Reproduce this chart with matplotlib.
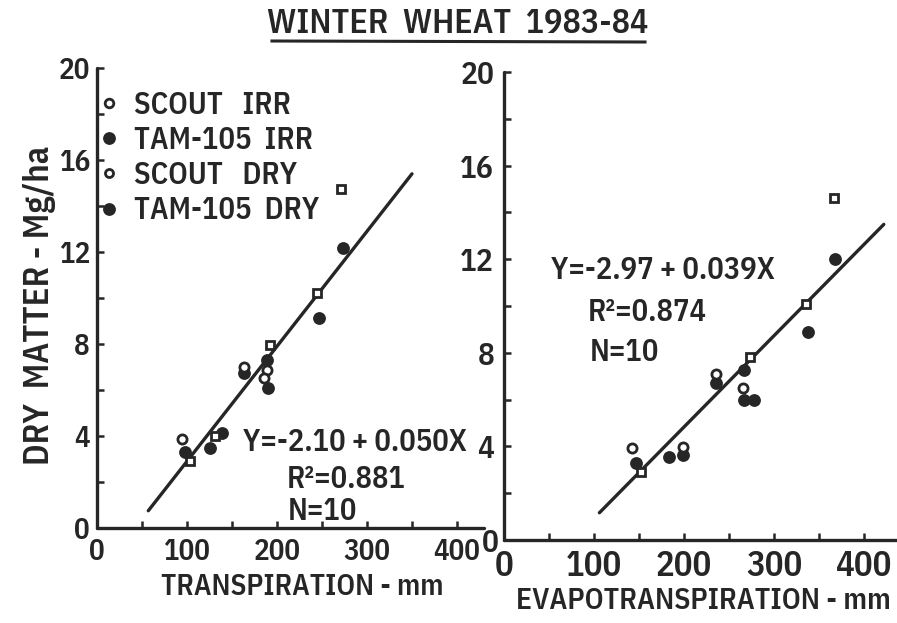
import matplotlib
matplotlib.use('Agg')
import matplotlib.pyplot as plt
from matplotlib.lines import Line2D
from matplotlib.ticker import MultipleLocator
import numpy as np

plt.rcParams['font.family'] = ['IBM Plex Sans Condensed', 'DejaVu Sans']
plt.rcParams['font.weight'] = 600
INK = '#262626'

# ---------------- data ----------------
series_names = ['SCOUT   IRR', 'TAM-105  IRR', 'SCOUT   DRY', 'TAM-105  DRY']

# Left panel: transpiration (mm) vs dry matter (Mg/ha)
t_scout_irr_x = [103, 131, 192, 244, 271]
t_scout_irr_y = [2.93, 4.0, 7.96, 10.2, 14.73]
t_tam_irr_x = [126, 189, 247, 273]
t_tam_irr_y = [3.48, 7.3, 9.12, 12.16]
t_scout_dry_x = [94, 163, 189, 186]
t_scout_dry_y = [3.86, 7.01, 6.87, 6.53]
t_tam_dry_x = [98, 139, 163, 190]
t_tam_dry_y = [3.32, 4.13, 6.74, 6.07]

# Right panel: evapotranspiration (mm) vs dry matter (Mg/ha)
et_scout_irr_x = [152, 273, 336, 367]
et_scout_irr_y = [2.92, 7.81, 10.09, 14.6]
et_tam_irr_x = [183, 267, 338, 368]
et_tam_irr_y = [3.56, 7.26, 8.9, 12.0]
et_scout_dry_x = [142, 199, 235, 265]
et_scout_dry_y = [3.92, 3.97, 7.09, 6.48]
et_tam_dry_x = [147, 199, 235, 267, 278]
et_tam_dry_y = [3.28, 3.63, 6.71, 5.98, 5.98]

# Regression lines: intercept, slope, x-range drawn
t_fit = (-2.10, 0.050)
t_fit_range = [57, 350]
et_fit = (-2.97, 0.039)
et_fit_range = [106, 422]

t_eq = ['Y=-2.10\u2009+\u20090.050X', 'R²=0.881', 'N=10']
et_eq = ['Y=-2.97\u2009+\u20090.039X', 'R²=0.874', 'N=10']

y_ticks = [0, 4, 8, 12, 16, 20]
x_ticks = [0, 100, 200, 300, 400]

# ---------------- figure ----------------
W, H = 897, 623
fig = plt.figure(figsize=(W / 100, H / 100), dpi=100)
fig.patch.set_facecolor('white')


def px_axes(x0, y0, x1, y1):
    return [x0 / W, 1 - y0 / H, (x1 - x0) / W, (y0 - y1) / H]


axL = fig.add_axes(px_axes(97, 528, 97 + 0.9 * 430, 528 - 23 * 20))
axR = fig.add_axes(px_axes(504, 540, 504 + 0.9 * 437, 540 - 23.4 * 20))

mk = dict(scout_irr=dict(marker='s', ms=6.4, mfc='white', mec=INK, mew=2.0, ls='none'),
          tam_irr=dict(marker='o', ms=8.2, mfc=INK, mec=INK, mew=1.0, ls='none'),
          scout_dry=dict(marker='o', ms=6.6, mfc='white', mec=INK, mew=2.0, ls='none'),
          tam_dry=dict(marker='o', ms=8.2, mfc=INK, mec=INK, mew=1.0, ls='none'))


def style_axes(ax, xmax, xfs, yfs, ypad):
    ax.set_xlim(0, xmax)
    ax.set_ylim(0, 20)
    for s in ['top', 'right']:
        ax.spines[s].set_visible(False)
    for s in ['left', 'bottom']:
        ax.spines[s].set_linewidth(2.4)
        ax.spines[s].set_color(INK)
        ax.spines[s].set_capstyle('round')
    ax.set_yticks(y_ticks)
    ax.set_yticklabels([str(v) for v in y_ticks])
    ax.set_xticks(x_ticks)
    ax.set_xticklabels([str(v) for v in x_ticks])
    ax.yaxis.set_minor_locator(MultipleLocator(2))
    ax.xaxis.set_minor_locator(MultipleLocator(50))
    ax.tick_params(which='both', direction='in', color=INK, width=1.8, length=5)
    ax.tick_params(axis='y', which='major', labelsize=yfs, pad=ypad, labelcolor=INK)
    ax.tick_params(axis='x', which='major', labelsize=xfs, pad=7, labelcolor=INK)
    ax.set_facecolor('none')


style_axes(axL, 430, 21, 21, 5)
style_axes(axR, 437, 25, 22.5, 7)
# the right panel's y "0" sits tight against the axis corner, as in the original
axR.get_yticklabels()[0].set_x(0.012)

# regression lines
for ax, (a, b), rng in [(axL, t_fit, t_fit_range), (axR, et_fit, et_fit_range)]:
    xs = np.array(rng, dtype=float)
    ax.plot(xs, a + b * xs, color=INK, lw=2.4, solid_capstyle='round', zorder=2)

# points
axL.plot(t_scout_irr_x, t_scout_irr_y, zorder=4, **mk['scout_irr'])
axL.plot(t_tam_irr_x, t_tam_irr_y, zorder=3, **mk['tam_irr'])
axL.plot(t_scout_dry_x, t_scout_dry_y, zorder=4, **mk['scout_dry'])
axL.plot(t_tam_dry_x, t_tam_dry_y, zorder=3, **mk['tam_dry'])
axR.plot(et_scout_irr_x, et_scout_irr_y, zorder=4, **mk['scout_irr'])
axR.plot(et_tam_irr_x, et_tam_irr_y, zorder=3, **mk['tam_irr'])
axR.plot(et_scout_dry_x, et_scout_dry_y, zorder=4, **mk['scout_dry'])
axR.plot(et_tam_dry_x, et_tam_dry_y, zorder=3, **mk['tam_dry'])

leg_handles = [Line2D([], [], marker='o', ms=6.2, mfc='white', mec=INK, mew=2.0, ls='none'),
               Line2D([], [], marker='o', ms=8.2, mfc=INK, mec=INK, ls='none'),
               Line2D([], [], marker='o', ms=5.8, mfc='white', mec=INK, mew=2.0, ls='none'),
               Line2D([], [], marker='o', ms=8.2, mfc=INK, mec=INK, ls='none')]
leg = axL.legend(leg_handles, series_names, loc='upper left',
                 bbox_to_anchor=(0.0, 0.953), frameon=False,
                 prop=dict(size=22, weight=600), handlelength=0.8, handletextpad=0.42,
                 labelspacing=0.17, borderpad=0, borderaxespad=0)
for t in leg.get_texts():
    t.set_color(INK)


def fig_text(px, py, s, **kw):
    fig.text(px / W, 1 - py / H, s, color=INK, **kw)


EQ_FS = 22
fig_text(243, 442, t_eq[0], fontsize=EQ_FS, va='center', ha='left')
fig_text(287, 479, t_eq[1], fontsize=EQ_FS, va='center', ha='left')
fig_text(288, 511, t_eq[2], fontsize=EQ_FS, va='center', ha='left')
fig_text(551, 270, et_eq[0], fontsize=EQ_FS, va='center', ha='left')
fig_text(588, 312, et_eq[1], fontsize=EQ_FS, va='center', ha='left')
fig_text(590, 352, et_eq[2], fontsize=EQ_FS, va='center', ha='left')

# axis labels
fig_text(40, 305, 'DRY  MATTER - Mg/ha', fontsize=25, rotation=90, va='center', ha='center')
fig_text(302, 587, 'TRANSPIRATION - mm', fontsize=21, va='center', ha='center')
fig_text(703, 601, 'EVAPOTRANSPIRATION - mm', fontsize=21.3, va='center', ha='center')

# title with underline
fig_text(458, 24, 'WINTER  WHEAT  1983-84', fontsize=24.5, va='center', ha='center')
fig.add_artist(Line2D([272 / W, 645 / W], [1 - 41 / H, 1 - 42 / H], color=INK, lw=2.2,
                      transform=fig.transFigure))

fig.savefig('out.png', dpi=100, facecolor='white')
